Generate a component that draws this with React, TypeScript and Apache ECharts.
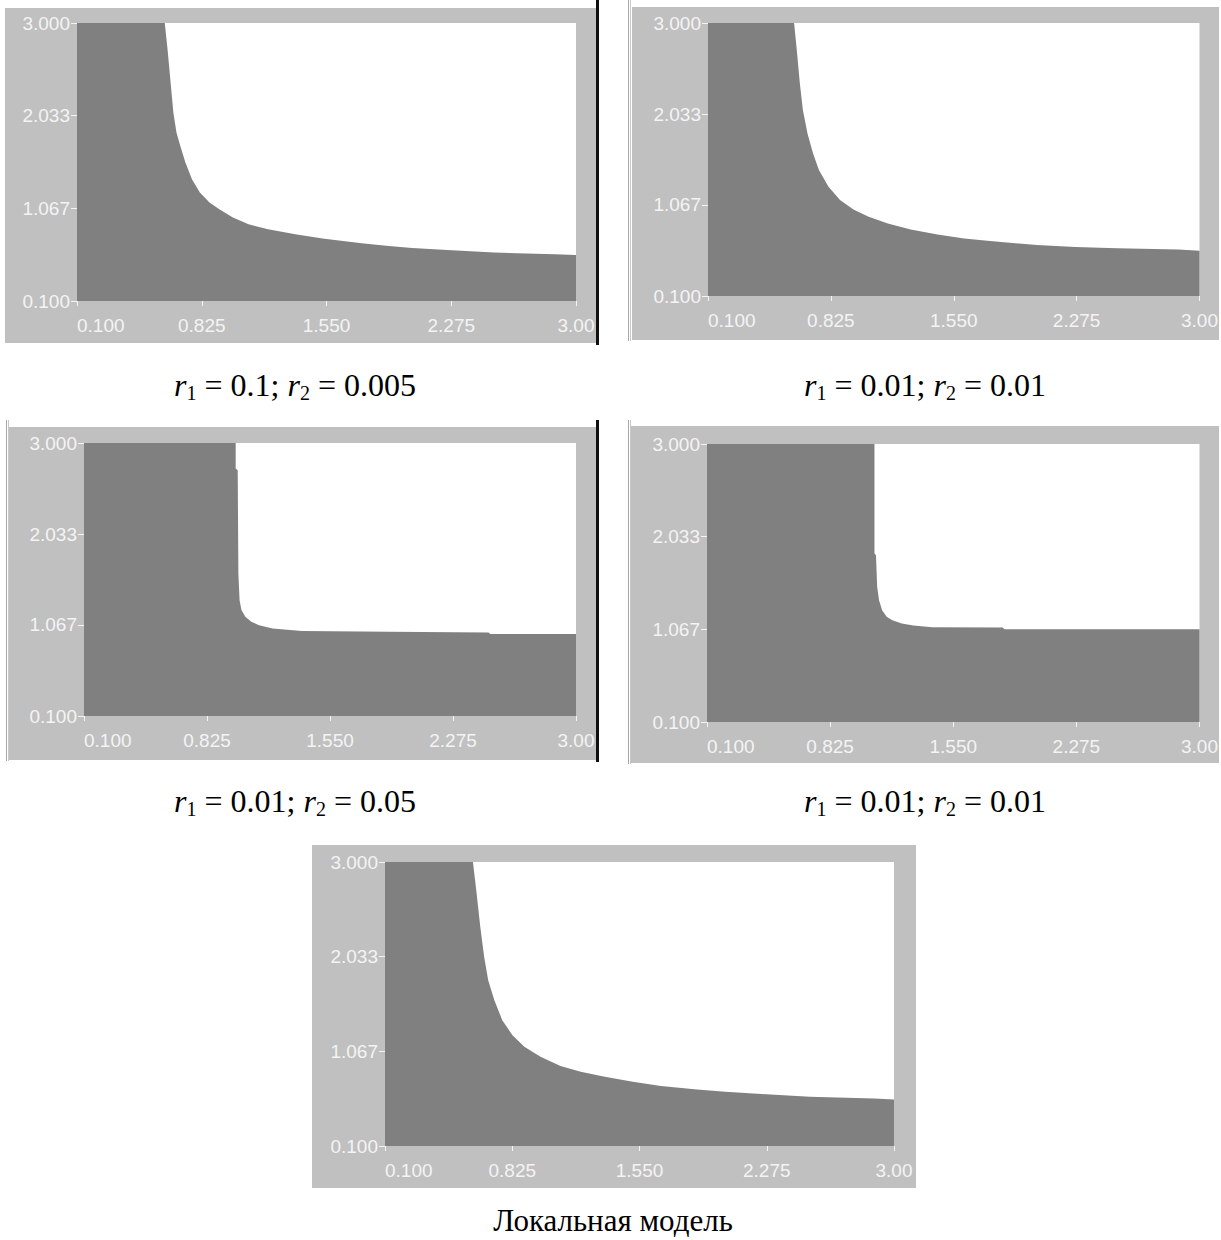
import { useEffect, useRef } from 'react';
import * as echarts from 'echarts';

// Tick positions and their printed labels (shared by every panel)
const xTicks = [0.1, 0.825, 1.55, 2.275, 3.0];
const xTickLabels = ['0.100', '0.825', '1.550', '2.275', '3.00'];
const yTicks = [0.1, 1.0667, 2.0333, 3.0];
const yTickLabels = ['0.100', '1.067', '2.033', '3.000'];

// Stability-region boundaries: [x, y] points; region below the curve is filled
const boundaryA: [number, number][] = [
  [0.1, 3.0], [0.61, 3.0], [0.626, 2.728], [0.644, 2.38], [0.66, 2.067], [0.678, 1.858],
  [0.7, 1.719], [0.73, 1.545], [0.768, 1.371], [0.814, 1.231], [0.87, 1.127], [0.927, 1.057],
  [1.006, 0.97], [1.097, 0.9], [1.21, 0.849], [1.369, 0.796], [1.527, 0.751], [1.754, 0.702],
  [1.912, 0.674], [2.048, 0.654], [2.252, 0.633], [2.524, 0.605], [2.875, 0.587], [3.0, 0.58],
];
const boundaryB: [number, number][] = [
  [0.1, 3.0], [0.608, 3.0], [0.624, 2.71], [0.642, 2.356], [0.66, 2.073], [0.687, 1.826],
  [0.72, 1.614], [0.755, 1.437], [0.811, 1.26], [0.879, 1.119], [0.958, 1.02], [1.048, 0.942],
  [1.161, 0.871], [1.296, 0.807], [1.454, 0.754], [1.612, 0.712], [1.748, 0.687], [2.041, 0.641],
  [2.267, 0.62], [2.515, 0.606], [2.876, 0.595], [3.0, 0.581],
];
const boundaryC: [number, number][] = [
  [0.1, 3.0], [0.994, 3.0], [0.994, 2.728], [1.006, 2.71], [1.01, 1.614], [1.017, 1.33],
  [1.028, 1.225], [1.051, 1.154], [1.086, 1.1], [1.132, 1.065], [1.212, 1.03], [1.384, 1.002],
  [1.9, 0.995], [2.484, 0.988], [2.495, 0.97], [3.0, 0.97],
];
const boundaryD: [number, number][] = [
  [0.1, 3.0], [1.086, 3.0], [1.086, 1.858], [1.095, 1.84], [1.102, 1.51], [1.113, 1.371],
  [1.131, 1.266], [1.158, 1.197], [1.191, 1.162], [1.247, 1.127], [1.315, 1.106], [1.427, 1.089],
  [1.841, 1.085], [1.852, 1.068], [3.0, 1.068],
];
const boundaryLocal: [number, number][] = [
  [0.1, 3.0], [0.601, 3.0], [0.62, 2.711], [0.643, 2.337], [0.665, 2.031], [0.688, 1.793],
  [0.723, 1.589], [0.768, 1.385], [0.826, 1.232], [0.894, 1.113], [0.986, 1.011], [1.1, 0.916],
  [1.215, 0.858], [1.352, 0.807], [1.512, 0.756], [1.672, 0.712], [1.878, 0.678], [2.039, 0.654],
  [2.245, 0.63], [2.52, 0.603], [2.886, 0.586], [3.0, 0.576],
];

// Model parameters printed under the panels
const paramR1 = ['0.1', '0.01', '0.01', '0.01'];
const paramR2 = ['0.005', '0.01', '0.05', '0.01'];
const localCaption = 'Локальная модель';

const FRAME = '#c0c0c0';
const FILL = '#808080';
const LABEL = '#f4f4f4';

// Panel geometry in page pixels
const panels = [
  { data: boundaryA, grid: [77, 23, 499, 278], frame: [5, 8, 591, 335] },
  { data: boundaryB, grid: [708, 23, 492, 273], frame: [632, 7, 587, 333] },
  { data: boundaryC, grid: [84, 443, 492, 273], frame: [9, 427, 587, 333] },
  { data: boundaryD, grid: [707, 444, 496, 278], frame: [631, 426, 588, 337] },
  { data: boundaryLocal, grid: [385, 862, 509, 284], frame: [312, 845, 604, 343] },
];

const captionPos = [
  [295, 385],
  [925, 385],
  [295, 801],
  [925, 801],
];

export default function App() {
  const ref = useRef<HTMLDivElement>(null);

  useEffect(() => {
    if (!ref.current) return;
    const chart = echarts.init(ref.current, undefined, { renderer: 'svg' });

    const labelFont = {
      color: LABEL,
      fontFamily: 'Liberation Sans, Arial, sans-serif',
      fontSize: 19,
    };

    const grids = panels.map((p) => ({
      left: p.grid[0],
      top: p.grid[1],
      width: p.grid[2],
      height: p.grid[3],
      show: true,
      backgroundColor: '#ffffff',
      borderWidth: 0,
    }));

    const xAxes = panels.map((_, i) => ({
      type: 'value',
      gridIndex: i,
      min: 0.1,
      max: 3.0,
      axisLine: { show: false },
      splitLine: { show: false },
      axisTick: {
        show: true,
        length: 5,
        customValues: xTicks,
        lineStyle: { color: LABEL, width: 1 },
      },
      axisLabel: {
        ...labelFont,
        margin: 15,
        customValues: xTicks,
        alignMinLabel: 'left',
        formatter: (v: number) => {
          const k = xTicks.findIndex((t) => Math.abs(t - v) < 1e-6);
          return k >= 0 ? xTickLabels[k] : '';
        },
      },
    }));

    const yAxes = panels.map((_, i) => ({
      type: 'value',
      gridIndex: i,
      min: 0.1,
      max: 3.0,
      axisLine: { show: false },
      splitLine: { show: false },
      axisTick: {
        show: true,
        length: 6,
        customValues: yTicks,
        lineStyle: { color: LABEL, width: 1 },
      },
      axisLabel: {
        ...labelFont,
        margin: 7,
        customValues: yTicks,
        formatter: (v: number) => {
          const k = yTicks.findIndex((t) => Math.abs(t - v) < 1e-3);
          return k >= 0 ? yTickLabels[k] : '';
        },
      },
    }));

    const series = panels.map((p, i) => ({
      type: 'line',
      xAxisIndex: i,
      yAxisIndex: i,
      data: p.data,
      symbol: 'none',
      lineStyle: { width: 0, opacity: 0 },
      areaStyle: { color: FILL, opacity: 1, origin: 'start' },
      silent: true,
    }));

    const frames = panels.map((p) => ({
      type: 'rect',
      silent: true,
      z: -10,
      shape: { x: p.frame[0], y: p.frame[1], width: p.frame[2], height: p.frame[3] },
      style: { fill: FRAME },
    }));

    // Window edges around the screenshots
    const edges = [
      { type: 'rect', silent: true, z: -5, shape: { x: 596, y: 0, width: 3, height: 345 }, style: { fill: '#101010' } },
      { type: 'rect', silent: true, z: -5, shape: { x: 596, y: 420, width: 3, height: 342 }, style: { fill: '#101010' } },
      { type: 'rect', silent: true, z: -5, shape: { x: 628, y: 0, width: 1, height: 341 }, style: { fill: '#a8a8a8' } },
      { type: 'rect', silent: true, z: -5, shape: { x: 630, y: 0, width: 1, height: 341 }, style: { fill: '#c8c8c8' } },
      { type: 'rect', silent: true, z: -5, shape: { x: 6, y: 420, width: 1, height: 341 }, style: { fill: '#a8a8a8' } },
      { type: 'rect', silent: true, z: -5, shape: { x: 8, y: 420, width: 1, height: 341 }, style: { fill: '#c8c8c8' } },
      { type: 'rect', silent: true, z: -5, shape: { x: 628, y: 420, width: 1, height: 344 }, style: { fill: '#a8a8a8' } },
      { type: 'rect', silent: true, z: -5, shape: { x: 630, y: 420, width: 1, height: 344 }, style: { fill: '#c8c8c8' } },
    ];

    const serif = 'Liberation Serif, Times New Roman, serif';
    const rich = {
      i: { fontFamily: serif, fontStyle: 'italic', fontSize: 32, lineHeight: 36, color: '#000' },
      s: { fontFamily: serif, fontSize: 20, lineHeight: 20, verticalAlign: 'bottom', color: '#000' },
      n: { fontFamily: serif, fontSize: 32, lineHeight: 36, color: '#000' },
    };

    const captions = captionPos.map((pos, k) => ({
      type: 'text',
      x: pos[0],
      y: pos[1],
      silent: true,
      style: {
        text: `{i|r}{s|1}{n| = ${paramR1[k]}; }{i|r}{s|2}{n| = ${paramR2[k]}}`,
        rich,
        align: 'center',
        verticalAlign: 'middle',
      },
    }));

    const footer = {
      type: 'text',
      x: 613,
      y: 1220,
      silent: true,
      style: {
        text: localCaption,
        fontFamily: serif,
        fontSize: 31,
        lineHeight: 32,
        fill: '#000',
        align: 'center',
        verticalAlign: 'middle',
      },
    };

    chart.setOption({
      animation: false,
      backgroundColor: '#ffffff',
      grid: grids,
      xAxis: xAxes,
      yAxis: yAxes,
      series,
      graphic: [...frames, ...edges, ...captions, footer],
    } as any);

    return () => chart.dispose();
  }, []);

  return (
    <div
      ref={ref}
      style={{ position: 'fixed', left: 0, top: 0, width: 1221, height: 1240 }}
    />
  );
}
